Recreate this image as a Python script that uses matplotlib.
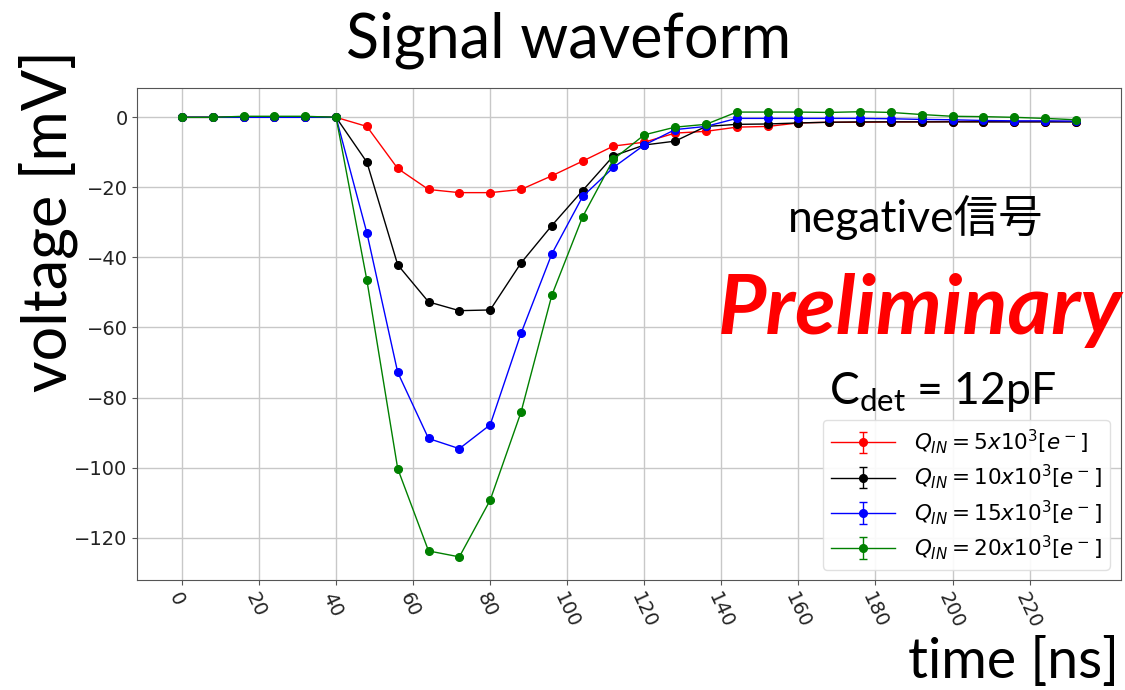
import matplotlib
matplotlib.use("Agg")
import matplotlib.pyplot as plt

# sampling times [ns]
time_ns = [0, 8, 16, 24, 32, 40, 48, 56, 64, 72, 80, 88, 96, 104, 112,
           120, 128, 136, 144, 152, 160, 168, 176, 184, 192, 200, 208, 216, 224, 232]

# averaged pulse amplitude [mV] for each injected charge
v_5k = [0.0, 0.0, 0.1, 0.1, 0.1, 0.0, -2.6, -14.6, -20.6, -21.5, -21.5, -20.6, -16.7, -12.5, -8.2,
        -7.1, -4.5, -4.0, -2.8, -2.6, -1.6, -1.4, -1.4, -1.3, -1.3, -1.2, -1.2, -1.2, -1.2, -1.2]
v_10k = [0.0, 0.0, 0.1, 0.1, 0.1, 0.0, -12.8, -42.1, -52.7, -55.2, -55.0, -41.6, -30.9, -20.9, -11.0,
         -7.9, -6.8, -2.6, -2.0, -1.9, -1.6, -1.4, -1.3, -1.3, -1.3, -1.3, -1.3, -1.3, -1.3, -1.3]
v_15k = [0.0, 0.0, 0.0, 0.0, 0.0, 0.0, -33.0, -72.8, -91.7, -94.6, -87.8, -61.7, -39.0, -22.6, -14.3,
         -7.9, -3.5, -2.6, -0.3, -0.3, -0.3, -0.3, -0.3, -0.4, -0.6, -0.7, -0.9, -1.0, -1.0, -1.1]
v_20k = [0.0, 0.0, 0.3, 0.3, 0.3, 0.0, -46.5, -100.3, -123.8, -125.5, -109.3, -84.2, -50.8, -28.4, -12.0,
         -5.0, -2.8, -2.0, 1.5, 1.5, 1.5, 1.4, 1.6, 1.4, 0.8, 0.3, 0.2, 0.0, -0.3, -0.7]
v_err = 0.3

series = [
    (v_5k, 'red', r'$Q_{IN}=5x10^3[e^-]$'),
    (v_10k, 'black', r'$Q_{IN}=10x10^3[e^-]$'),
    (v_15k, 'blue', r'$Q_{IN}=15x10^3[e^-]$'),
    (v_20k, 'green', r'$Q_{IN}=20x10^3[e^-]$'),
]

fig = plt.figure(figsize=(11.25, 6.9), dpi=100)
ax = fig.add_axes([0.122, 0.159, 0.874, 0.713])

for vals, col, lab in series:
    ax.errorbar(time_ns, vals, yerr=v_err, color=col, marker='o', markersize=5.5,
                linewidth=1.0, capsize=3, label=lab)

ax.grid(True, color='#c8c8c8', linewidth=1.0)
ax.set_axisbelow(True)
ax.set_xticks(range(0, 221, 20))
ax.set_yticks(range(-120, 1, 20))
ax.tick_params(axis='both', labelsize=14, color='#555555', labelcolor='#222222')
plt.setp(ax.get_xticklabels(), rotation=-65, ha='left', va='top', rotation_mode='anchor')
for s in ax.spines.values():
    s.set_color('#555555')

ax.legend(loc='lower right', fontsize=15.5, handlelength=3.0, handletextpad=0.9,
          labelspacing=0.3, borderpad=0.35, framealpha=0.9, edgecolor='#dddddd')

# slide annotations
fig.text(0.505, 0.942, 'Signal waveform', fontsize=44, family='Lato',
         ha='center', va='center')
fig.text(0.043, 0.68, 'voltage [mV]', fontsize=44, family='Lato',
         rotation=90, ha='center', va='center')
fig.text(0.995, 0.04, 'time [ns]', fontsize=40, family='Lato',
         ha='right', va='center')
fig.text(0.814, 0.685, 'negative信号', fontsize=32, family=['Lato', 'Noto Sans CJK JP'],
         ha='center', va='center')
fig.text(0.998, 0.55, 'Preliminary', fontsize=60, family='Lato', color='red',
         fontweight='bold', fontstyle='italic', ha='right', va='center')
fig.text(0.838, 0.432, r'C$_\mathregular{det}$ = 12pF', fontsize=32, family='Lato',
         ha='center', va='center')

fig.savefig('out.png', dpi=100)
